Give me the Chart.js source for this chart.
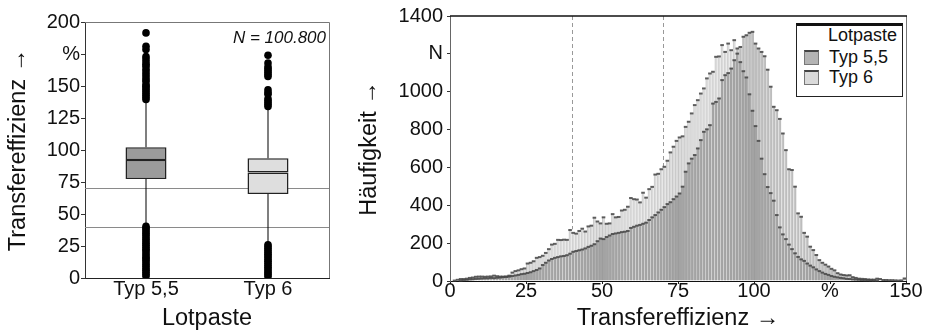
<!DOCTYPE html>
<html>
<head>
<meta charset="utf-8">
<script src="https://cdn.jsdelivr.net/npm/chart.js@4.4.1/dist/chart.umd.min.js"></script>
<style>
    html, body { margin: 0; padding: 0; background: #fff; }
    body { width: 927px; height: 333px; position: relative; overflow: hidden; font-family: "Liberation Sans", Arial, sans-serif; }
    #boxChart { position: absolute; left: 0; top: 0; }
    #histChart { position: absolute; left: 340px; top: 0; }
    #legend {
        position: absolute; left: 796px; top: 23px; width: 107px; height: 74px;
        box-sizing: border-box; background: #fff;
        border: 1px solid #222; border-top: 3px solid #111;
        font-size: 18px; color: #111;
    }
    #legend .title { text-align: right; padding-right: 5px; line-height: 18px; margin-bottom: 2.5px; }
    #legend .item { height: 20px; line-height: 20px; position: relative; padding-left: 32px; }
    #legend .swatch {
        position: absolute; left: 7px; top: 3px; width: 15px; height: 15px; box-sizing: border-box;
        border: 1px solid #777; border-top: 2px solid #444;
    }
</style>
</head>
<body>
<canvas id="boxChart" width="340" height="333"></canvas>
<canvas id="histChart" width="587" height="333"></canvas>
<div id="legend"></div>
<script>
const FONT = "'Liberation Sans', Arial, sans-serif";

// Boxplot: Transfereffizienz je Lotpaste
const categories = ["Typ 5,5", "Typ 6"];
const boxQ1 = [77.4, 65.6];
const boxMedian = [92.2, 82.5];
const boxQ3 = [102.1, 93.5];
const whiskerLow = [40.3, 26.5];
const whiskerHigh = [139.3, 134];
const outliers55 = [1.5, 2.8, 4.5, 6, 7.2, 9, 10.4, 12, 13.6, 15, 16.3, 18, 19.5, 21.2, 22.5, 24, 25.6, 27, 28.4, 30, 31.5, 33.2, 34.5, 36, 37.6, 39, 40.3,
    139.5, 141, 142.5, 144, 145.5, 147, 148.5, 150, 151, 153.5, 155, 157, 159, 161, 163, 165.5, 167, 169, 171, 173, 178.5, 181, 191.5];
const outliers6 = [1.2, 2.6, 4, 5.5, 7, 8.4, 10, 11.5, 13, 14.2, 15.8, 17.2, 18.6, 20, 21.5, 23, 24.5, 26,
    134, 135.5, 137, 138.5, 140, 143.5, 145, 147, 157.5, 159, 160.5, 162, 163.5, 165, 168, 174];
const refLines = [40, 70];
const boxYTicks = [0, 25, 50, 75, 100, 125, 150, 175, 200];
const boxYLabels = ["0", "25", "50", "75", "100", "125", "150", "%", "200"];
const sampleNote = "N = 100.800";

// Histogramm: Häufigkeit je 1 %-Klasse (0 ... 150)
const binStart = 0;
const binWidth = 1;
const hist55 = [
    1, 2, 4, 6, 8, 10, 12, 13, 15, 16,
    17, 18, 18, 20, 19, 21, 22, 24, 25, 27,
    30, 33, 36, 40, 42, 46, 50, 56, 62, 70,
    88, 100, 112, 120, 126, 130, 134, 136, 140, 148,
    158, 162, 166, 170, 176, 184, 190, 198, 214, 228,
    225, 236, 244, 252, 255, 258, 262, 264, 268, 284,
    290, 296, 300, 306, 312, 326, 340, 352, 366, 380,
    394, 410, 420, 436, 450, 466, 502, 581, 625, 650,
    669, 704, 748, 792, 805, 827, 941, 950, 968, 1065,
    1091, 1102, 1126, 1170, 1232, 1240, 1294, 1302, 1315, 1320,
    1258, 1232, 1214, 1191, 1120, 1030, 924, 906, 860, 783,
    695, 594, 590, 502, 361, 343, 258, 238, 185, 167,
    141, 114, 100, 90, 80, 68, 60, 45, 38, 35,
    33, 34, 24, 20, 16, 15, 14, 12, 11, 11,
    16, 14, 9, 9, 8, 8, 7, 6, 7, 17
];
const hist6 = [
    3, 6, 10, 14, 14, 16, 20, 22, 26, 27,
    27, 26, 27, 28, 32, 29, 27, 27, 28, 32,
    48, 56, 60, 66, 70, 96, 100, 108, 126, 130,
    137, 152, 172, 196, 200, 221, 220, 222, 221, 273,
    258, 254, 268, 280, 265, 292, 296, 338, 318, 308,
    340, 306, 308, 357, 340, 342, 376, 380, 396, 442,
    436, 434, 419, 470, 444, 489, 501, 566, 570, 594,
    607, 639, 683, 713, 744, 762, 768, 818, 845, 889,
    933, 959, 994, 1021, 1074, 1100, 1109, 1188, 1190, 1250,
    1214, 1258, 1223, 1276, 1205, 1160, 1112, 1079, 990, 903,
    822, 744, 650, 568, 500, 468, 428, 352, 287, 250,
    225, 196, 172, 150, 131, 118, 110, 96, 85, 76,
    65, 56, 48, 41, 36, 30, 26, 23, 20, 18,
    15, 14, 12, 11, 10, 9, 8, 8, 7, 6,
    6, 5, 5, 4, 4, 3, 3, 3, 2, 2
];
const markLines = [40, 70];
const histXTicks = [0, 25, 50, 75, 100, 125, 150];
const histXLabels = ["0", "25", "50", "75", "100", "%", "150"];
const histYTicks = [0, 200, 400, 600, 800, 1000, 1200, 1400];
const histYLabels = ["0", "200", "400", "600", "800", "1000", "N", "1400"];

const boxColors = ["#9b9b9b", "#dedede"];
const seriesFill = ["rgba(0,0,0,0.26)", "rgba(0,0,0,0.14)"];
const legendFill = ["#b4b4b4", "#dadada"];

// Boxplot extras: Grenzlinien, Rahmen und N-Angabe
const boxExtras = {
    id: "boxExtras",
    beforeDatasetsDraw(chart) {
        const { ctx, chartArea: a, scales: { y } } = chart;
        ctx.save();
        ctx.strokeStyle = "#8a8a8a";
        ctx.lineWidth = 1;
        refLines.forEach(v => {
            const py = Math.round(y.getPixelForValue(v)) + 0.5;
            ctx.beginPath();
            ctx.moveTo(a.left, py);
            ctx.lineTo(a.right, py);
            ctx.stroke();
        });
        ctx.restore();
    },
    afterDraw(chart) {
        const { ctx, chartArea: a } = chart;
        ctx.save();
        ctx.strokeStyle = "#777";
        ctx.lineWidth = 1;
        ctx.beginPath();
        ctx.moveTo(a.left, a.top + 0.5);
        ctx.lineTo(a.right + 0.5, a.top + 0.5);
        ctx.lineTo(a.right + 0.5, a.bottom);
        ctx.stroke();
        ctx.fillStyle = "#111";
        ctx.font = "italic 17px " + FONT;
        ctx.textAlign = "right";
        ctx.textBaseline = "middle";
        ctx.fillText(sampleNote, a.right - 3, a.top + 16);
        ctx.restore();
    }
};

const boxStyle = {
    backgroundColor: boxColors,
    borderColor: "#222",
    borderWidth: 1.5,
    borderSkipped: false,
    barThickness: 41,
    grouped: false,
    inflateAmount: 0,
    order: 1
};
const whiskerStyle = {
    backgroundColor: "#000",
    barThickness: 1,
    grouped: false,
    inflateAmount: 0,
    order: 2
};

new Chart(document.getElementById("boxChart"), {
    type: "bar",
    data: {
        labels: categories,
        datasets: [
            {
                type: "line",
                label: "Ausreißer",
                data: outliers55.map(v => ({ x: categories[0], y: v }))
                    .concat(outliers6.map(v => ({ x: categories[1], y: v }))),
                showLine: false,
                pointRadius: 3.8,
                pointBackgroundColor: "#000",
                pointBorderWidth: 0,
                order: 0
            },
            Object.assign({ label: "Box unten", data: boxQ1.map((v, i) => [v, boxMedian[i]]) }, boxStyle),
            Object.assign({ label: "Box oben", data: boxMedian.map((v, i) => [v, boxQ3[i]]) }, boxStyle),
            Object.assign({ label: "Whisker unten", data: whiskerLow.map((v, i) => [v, boxQ1[i]]) }, whiskerStyle),
            Object.assign({ label: "Whisker oben", data: boxQ3.map((v, i) => [v, whiskerHigh[i]]) }, whiskerStyle)
        ]
    },
    options: {
        responsive: false,
        animation: false,
        layout: { padding: { top: 22, right: 11, left: 0, bottom: 0 } },
        plugins: { legend: { display: false }, tooltip: { enabled: false } },
        scales: {
            x: {
                type: "category",
                offset: true,
                grid: { display: false, drawTicks: false },
                border: { color: "#222" },
                ticks: { color: "#111", font: { family: FONT, size: 20, lineHeight: 1 }, padding: 1 },
                title: {
                    display: true, text: "Lotpaste", color: "#111",
                    font: { family: FONT, size: 23.5, lineHeight: 1 }, padding: { top: 0, bottom: 3 }
                },
                afterFit(scale) { scale.height = 55; }
            },
            y: {
                min: 0,
                max: 200,
                afterBuildTicks(axis) { axis.ticks = boxYTicks.map(v => ({ value: v })); },
                ticks: {
                    color: "#111", font: { family: FONT, size: 20, lineHeight: 1 }, padding: 1,
                    callback: (v, i) => boxYLabels[i]
                },
                grid: { drawOnChartArea: false, drawTicks: true, tickLength: 4, color: "#333" },
                border: { color: "#333" },
                title: {
                    display: true, text: "Transfereffizienz →", color: "#111",
                    font: { family: FONT, size: 23.5, lineHeight: 1 }, padding: { top: 7, bottom: 0 }
                },
                afterFit(scale) { scale.width = 85; }
            }
        }
    },
    plugins: [boxExtras]
});

// Histogramm extras: gestrichelte Grenzen, dunkle Balkenkappen und Rahmen
const histExtras = {
    id: "histExtras",
    beforeDatasetsDraw(chart) {
        const { ctx, chartArea: a, scales: { x, y } } = chart;
        ctx.save();
        ctx.strokeStyle = "#999";
        ctx.lineWidth = 1;
        ctx.setLineDash([4, 3]);
        markLines.forEach(v => {
            const px = Math.round(x.getPixelForValue(v)) + 0.5;
            // the dashed line stops where the bars beside it begin
            const bin = Math.round((v - binStart) / binWidth);
            const tallest = Math.max(hist55[bin - 1], hist55[bin], hist6[bin - 1], hist6[bin]);
            ctx.beginPath();
            ctx.moveTo(px, a.top);
            ctx.lineTo(px, y.getPixelForValue(tallest));
            ctx.stroke();
        });
        ctx.restore();
    },
    afterDatasetsDraw(chart) {
        const { ctx } = chart;
        ctx.save();
        ctx.fillStyle = "rgba(70,70,70,0.85)";
        chart.data.datasets.forEach((ds, i) => {
            chart.getDatasetMeta(i).data.forEach(bar => {
                if (bar.base - bar.y < 0.5) return;
                ctx.fillRect(bar.x - bar.width / 2 - 0.3, bar.y - 0.3, bar.width + 0.6, 2);
            });
        });
        ctx.restore();
    },
    afterDraw(chart) {
        const { ctx, chartArea: a } = chart;
        ctx.save();
        ctx.strokeStyle = "#777";
        ctx.lineWidth = 1;
        ctx.beginPath();
        ctx.moveTo(a.right + 0.5, a.top);
        ctx.lineTo(a.right + 0.5, a.bottom);
        ctx.stroke();
        ctx.strokeStyle = "#111";
        ctx.lineWidth = 1.6;
        ctx.beginPath();
        ctx.moveTo(a.left, a.top);
        ctx.lineTo(a.right + 1, a.top);
        ctx.stroke();
        ctx.restore();
    }
};

function histDataset(label, values, fill) {
    return {
        label: label,
        data: values.map((v, i) => ({ x: binStart + (i + 0.5) * binWidth, y: v })),
        backgroundColor: fill,
        borderColor: "rgba(0,0,0,0.22)",
        borderWidth: { top: 0, left: 1, right: 0, bottom: 0 },
        grouped: false,
        barPercentage: 1,
        categoryPercentage: 1,
        inflateAmount: 0
    };
}

const histChart = new Chart(document.getElementById("histChart"), {
    type: "bar",
    data: {
        datasets: [
            histDataset(categories[0], hist55, seriesFill[0]),
            histDataset(categories[1], hist6, seriesFill[1])
        ]
    },
    options: {
        responsive: false,
        animation: false,
        layout: { padding: { top: 16, right: 21, left: 0, bottom: 0 } },
        plugins: { legend: { display: false }, tooltip: { enabled: false } },
        scales: {
            x: {
                type: "linear",
                min: 0,
                max: 150,
                offset: false,
                afterBuildTicks(axis) { axis.ticks = histXTicks.map(v => ({ value: v })); },
                ticks: {
                    color: "#111", font: { family: FONT, size: 20, lineHeight: 1 }, padding: -3,
                    maxRotation: 0, autoSkip: false,
                    callback: (v, i) => histXLabels[i]
                },
                grid: { offset: false, drawOnChartArea: false, drawTicks: true, tickLength: 3, color: "#222" },
                border: { color: "#111" },
                title: {
                    display: true, text: "Transfereffizienz →", color: "#111",
                    font: { family: FONT, size: 23.5, lineHeight: 1 }, padding: { top: 0, bottom: 3 }
                },
                afterFit(scale) { scale.height = 52; }
            },
            y: {
                min: 0,
                max: 1400,
                afterBuildTicks(axis) { axis.ticks = histYTicks.map(v => ({ value: v })); },
                ticks: {
                    color: "#111", font: { family: FONT, size: 20, lineHeight: 1 }, padding: 4,
                    callback: (v, i) => histYLabels[i]
                },
                grid: { drawOnChartArea: false, drawTicks: true, tickLength: 3, color: "#333" },
                border: { color: "#666" },
                title: {
                    display: true, text: "Häufigkeit →", color: "#111",
                    font: { family: FONT, size: 23.5, lineHeight: 1 }, padding: { top: 17.5, bottom: 0 }
                },
                afterFit(scale) { scale.width = 110; }
            }
        }
    },
    plugins: [histExtras]
});

// Legend built from the histogram datasets
const legend = document.getElementById("legend");
legend.innerHTML = '<div class="title">Lotpaste</div>' +
    histChart.data.datasets.map((ds, i) =>
        `<div class="item"><span class="swatch" style="background:${legendFill[i]}"></span>${ds.label}</div>`
    ).join("");
</script>
</body>
</html>
